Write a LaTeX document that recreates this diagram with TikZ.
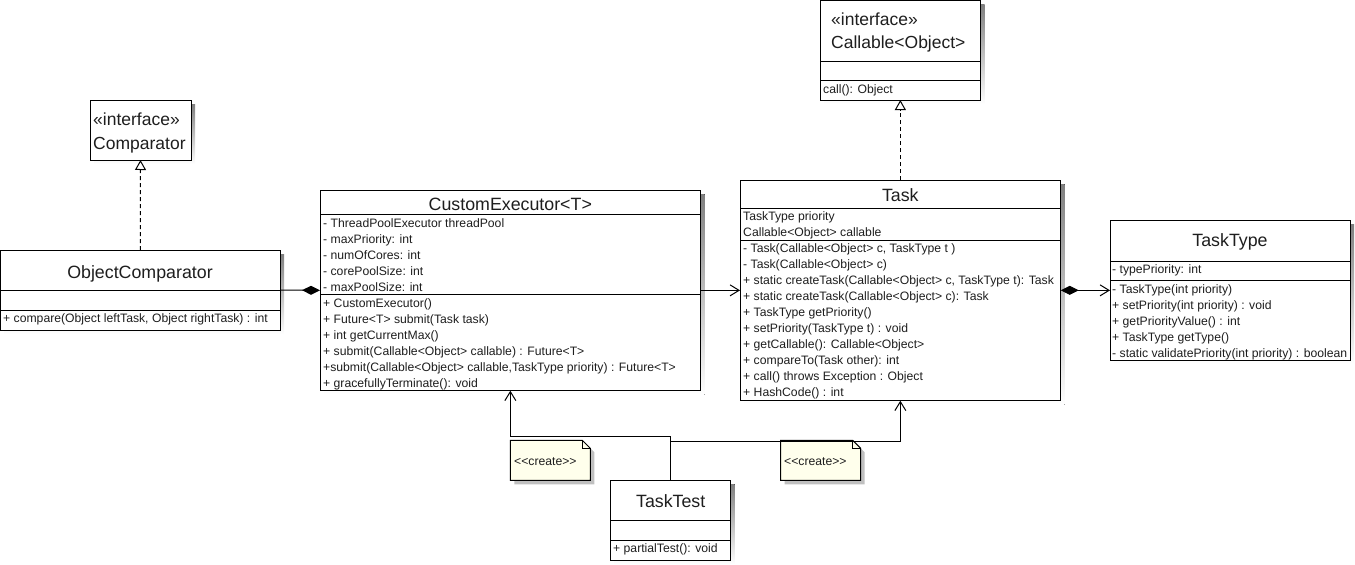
\documentclass[tikz,border=0pt]{standalone}
\usepackage{fontspec}
\setmainfont{Liberation Sans}
\usetikzlibrary{arrows.meta,backgrounds}
\definecolor{txt}{RGB}{30,30,30}
\definecolor{notefill}{RGB}{255,255,236}
\definecolor{shade}{RGB}{192,192,192}
\newcommand\dogear[2]{\path[#2] (#1.north west) -- ([xshift=-8pt]#1.north east) -- ([yshift=-8pt]#1.north east) -- (#1.south east) -- (#1.south west) -- cycle;}
\newcommand\hdiv[2]{\draw[line width=1pt] (#1.west |- 0,#2) -- (#1.east |- 0,#2);}
\newcommand\boxshadow[1]{\fill[shade] ([xshift=4pt,yshift=-4pt]#1.north west) rectangle ([xshift=4pt,yshift=-4pt]#1.south east);}
\begin{document}
\begin{tikzpicture}[x=1pt,y=-1pt,
  box/.style={draw=black, fill=white, line width=1pt, inner sep=0pt, outer sep=0pt, anchor=north west},
  notebox/.style={inner sep=0pt, outer sep=0pt, anchor=north west, minimum width=80pt, minimum height=40pt},
  title/.style={anchor=base, inner sep=0pt, text=txt, font=\fontsize{17.8}{20}\selectfont},
  ititle/.style={anchor=base west, inner sep=0pt, text=txt, font=\fontsize{17.5}{20}\selectfont},
  member/.style={anchor=base west, inner sep=0pt, text=txt, font=\fontsize{12.2}{14}\selectfont},
  dep/.style={line width=1pt, -{Straight Barb[length=9pt,width=11pt]}},
  real/.style={line width=1pt, dash pattern=on 4pt off 3pt, -{Triangle[open,length=10pt,width=11pt,fill=white]}},
  compend/.style={line width=1pt, -{Diamond[length=18pt,width=9pt]}},
  compnav/.style={line width=1pt, {Diamond[length=18pt,width=9pt]}-{Straight Barb[length=9pt,width=11pt]}},
]
\useasboundingbox (0,0) rectangle (1355,565);

% ---------- boxes ----------
\node[box, minimum width=101pt, minimum height=60pt] (cmp) at (90,100) {};
\node[box, minimum width=279.5pt, minimum height=80pt] (oc) at (0.5,250) {};
\node[box, minimum width=380.7pt, minimum height=200.7pt] (ce) at (320,190) {};
\node[box, minimum width=320.7pt, minimum height=220.7pt] (task) at (740,180) {};
\node[box, minimum width=240pt, minimum height=139.3pt] (tt) at (1110,220.7) {};
\node[box, minimum width=160.7pt, minimum height=99.5pt] (cal) at (820,0.5) {};
\node[box, minimum width=120pt, minimum height=80pt] (test) at (610.7,480) {};

\begin{scope}[on background layer]
\boxshadow{cmp} \boxshadow{oc} \boxshadow{ce} \boxshadow{task}
\boxshadow{tt} \boxshadow{cal} \boxshadow{test}
\end{scope}

% ---------- dividers ----------
\hdiv{oc}{290} \hdiv{oc}{310}
\hdiv{ce}{214.3} \hdiv{ce}{294.3}
\hdiv{task}{208.3} \hdiv{task}{240.7}
\hdiv{tt}{261} \hdiv{tt}{280.3}
\hdiv{cal}{61} \hdiv{cal}{80.3}
\hdiv{test}{520} \hdiv{test}{540}

% ---------- Comparator ----------
\node[ititle] (cmp-s) at (93,125) {«interface»};
\node[ititle] (cmp-n) at (93,149.3) {Comparator};

% ---------- Callable ----------
\node[ititle] (cal-s) at (831,25.7) {«interface»};
\node[ititle] (cal-n) at (831,48.3) {Callable<Object>};
\node[member] (cal-m) at (823,93) {call(): Object};

% ---------- ObjectComparator ----------
\node[title] (oc-t) at (140,278.3) {ObjectComparator};
\node[member] (oc-m) at (3,322.7) {+ compare(Object leftTask, Object rightTask) : int};

% ---------- CustomExecutor ----------
\node[title] (ce-t) at (510.3,210) {CustomExecutor<T>};
\foreach \t [count=\i from 0] in {{- ThreadPoolExecutor threadPool},{- maxPriority: int},{- numOfCores: int},{- corePoolSize: int},{- maxPoolSize: int}}
  \node[member] (ce-a\i) at (323,227+16*\i) {\t};
\foreach \t [count=\i from 0] in {{+ CustomExecutor()},{+ Future<T> submit(Task task)},{+ int getCurrentMax()},{+ submit(Callable<Object> callable) : Future<T>},{+submit(Callable<Object> callable,TaskType priority) : Future<T>},{+ gracefullyTerminate(): void}}
  \node[member] (ce-m\i) at (323,307+16*\i) {\t};

% ---------- Task ----------
\node[title] (task-t) at (900.3,201.7) {Task};
\foreach \t [count=\i from 0] in {{TaskType priority},{Callable<Object> callable}}
  \node[member] (task-a\i) at (743,220.7+16*\i) {\t};
\foreach \t [count=\i from 0] in {{- Task(Callable<Object> c, TaskType t )},{- Task(Callable<Object> c)},{+ static createTask(Callable<Object> c, TaskType t): Task},{+ static createTask(Callable<Object> c): Task},{+ TaskType getPriority()},{+ setPriority(TaskType t) : void},{+ getCallable(): Callable<Object>},{+ compareTo(Task other): int},{+ call() throws Exception : Object},{+ HashCode() : int}}
  \node[member] (task-m\i) at (743,252.7+16*\i) {\t};

% ---------- TaskType ----------
\node[title] (tt-t) at (1230,246.7) {TaskType};
\node[member] (tt-a0) at (1112,273.5) {- typePriority: int};
\foreach \t [count=\i from 0] in {{- TaskType(int priority)},{+ setPriority(int priority) : void},{+ getPriorityValue() : int},{+ TaskType getType()},{- static validatePriority(int priority) : boolean}}
  \node[member] (tt-m\i) at (1112,293+16*\i) {\t};

% ---------- TaskTest ----------
\node[title] (test-t) at (670.7,507.7) {TaskTest};
\node[member] (test-m) at (613,552.5) {+ partialTest(): void};

% ---------- notes ----------
\node[notebox] (n1) at (510.3,440.3) {};
\node[notebox] (n2) at (780.7,440.3) {};
\dogear{n1}{fill=shade, transform canvas={xshift=4pt,yshift=-4pt}}
\dogear{n2}{fill=shade, transform canvas={xshift=4pt,yshift=-4pt}}
\dogear{n1}{draw=black, fill=notefill, line width=1pt}
\dogear{n2}{draw=black, fill=notefill, line width=1pt}
\draw[line width=1pt] ([xshift=-8pt]n1.north east) -- ++(0,8) -- ++(8,0);
\draw[line width=1pt] ([xshift=-8pt]n2.north east) -- ++(0,8) -- ++(8,0);
\node[member] (n1-t) at (514,465) {<{}<create>{}>};
\node[member] (n2-t) at (784,465) {<{}<create>{}>};

% ---------- connectors ----------
\draw[real] (oc.north) -- (cmp.south);
\draw[real] (task.north) -- (cal.south);
\draw[compend] (oc.east) -- (ce.west);
\draw[dep] (ce.east) -- (task.west);
\draw[compnav] (task.east) -- (tt.west);
\draw[dep] (test.north) -- ([yshift=44pt]test.north) -| (ce.south);
\draw[dep] ([yshift=39pt]test.north) -| (task.south);
\end{tikzpicture}
\end{document}
